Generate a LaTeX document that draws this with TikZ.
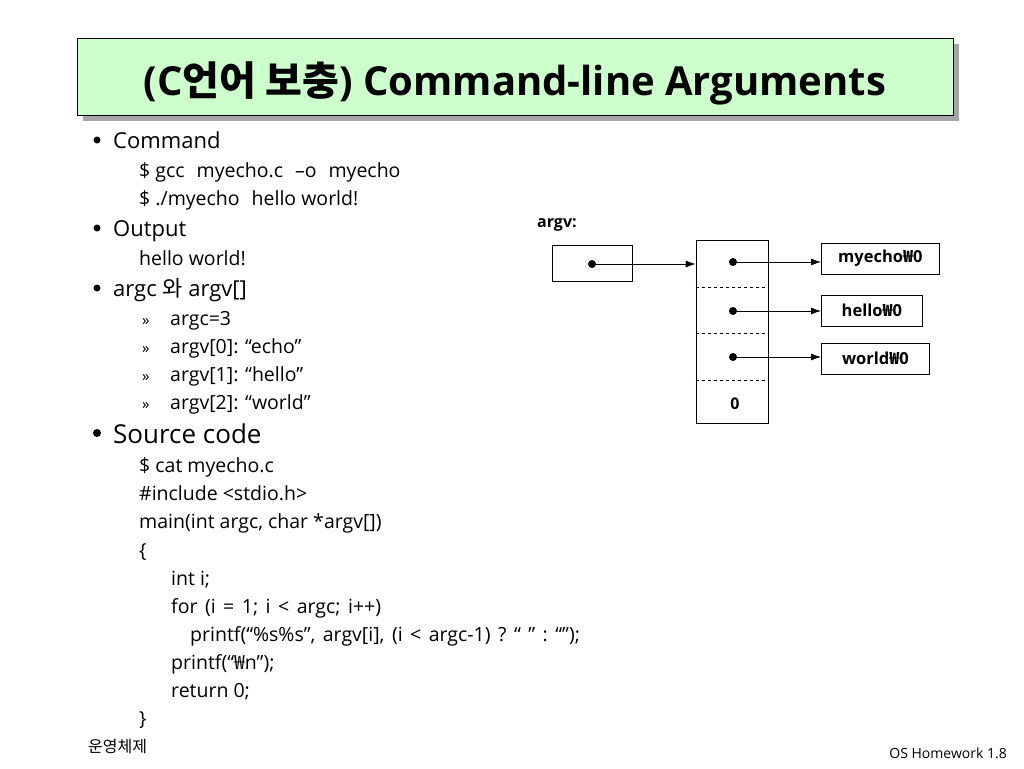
\documentclass[tikz,border=0pt]{standalone}
\usepackage{fontspec}
\setmainfont{Open Sans}
\newfontfamily\kr{Noto Sans CJK KR}
\usepackage{tikz}
\usetikzlibrary{shadows}
\usetikzlibrary{positioning}
\usetikzlibrary{arrows,arrows.meta,shapes}
\usetikzlibrary{calc}

\definecolor{titlegreen}{RGB}{204,255,204}
\definecolor{shade}{RGB}{165,165,165}
\newcommand{\hsp}{\hspace{12pt}}
\newcommand{\gap}{\hspace{7.5pt}}
\newcommand{\won}{{\kr ₩}}

\tikzset{
    titlebar/.style={draw, line width=0.8pt, fill=titlegreen, minimum width=876pt, minimum height=77pt, inner sep=0pt,
        drop shadow={shadow xshift=6pt, shadow yshift=-6pt, fill=shade, opacity=1}},
    titletext/.style={inner sep=0pt, font=\fontsize{40}{44}\bfseries},
    head/.style={anchor=mid west, inner sep=0pt, font=\fontsize{22}{26}\selectfont},
    codeline/.style={anchor=mid west, inner sep=0pt, font=\fontsize{19.5}{22}\selectfont},
    bulletdot/.style={circle, fill, inner sep=0pt, minimum size=7pt},
    cell/.style={draw, line width=0.8pt, inner sep=0pt},
    strbox/.style={draw, line width=0.8pt, inner sep=0pt, minimum height=31pt, font=\fontsize{16.5}{18}\bfseries},
    ptr/.style={circle, fill, inner sep=0pt, minimum size=8pt},
    link/.style={line width=0.8pt, -{Latex[length=10pt,width=7pt]}}
}

\begin{document}
\begin{tikzpicture}[x=1pt, y=-1pt, auto, swap]
   \useasboundingbox (0,0) rectangle (1024,768);

   % title
   \node[titlebar] (title) at (515,76.5) {};
   \node[titletext] (ttl) at ($(title.center)+(0,7)$) {(C{\kr 언어 보충}) Command-line Arguments};

   % bullets
   \def\bx{97};
   \def\tx{113};
   \def\sx{139};
   \foreach \y/\name/\id in {{140/Command/B1}, {228/Output/B2}, {288/{argc {\kr 와} argv[]}/B3}}
   {
        \node[bulletdot] (M\id) at (\bx,\y) {};
        \node[head] (\id) at (\tx,\y+6) {\name};
   }
   \node[bulletdot, minimum size=8pt] (MB4) at (\bx,433) {};
   \node[head, font=\fontsize{26}{30}\selectfont] (B4) at (\tx,441) {Source code};

   \foreach \y/\name/\id in {{170/{\$ gcc\hsp myecho.c\hsp –o\hsp myecho}/L1}, {198/{\$ ./myecho\hsp hello world!}/L2},
        {258/{hello world!}/L3}, {465/{\$ cat myecho.c}/L4}, {493/{\#include <stdio.h>}/L5},
        {521/{main(int argc, char *argv[])}/L6}, {550/{\{}/L7}, {718/{\}}/L8}}
        \node[codeline] (\id) at (\sx,\y+5) {\name};

   \foreach \y/\name/\id in {{318/{argc=3}/A1}, {346/{argv[0]: “echo”}/A2}, {374/{argv[1]: “hello”}/A3}, {402/{argv[2]: “world”}/A4}}
   {
        \node[codeline, font=\fontsize{15}{16}\selectfont] (Q\id) at (142,\y+5) {»};
        \node[codeline] (\id) at (170,\y+5) {\name};
   }

   \foreach \y/\name/\id in {{578/{int i;}/C1}, {606/{for\gap(i\gap=\gap1;\gap i\gap<\gap argc;\gap i++)}/C2},
        {662/{printf(“\won n”);}/C4}, {690/{return 0;}/C5}}
        \node[codeline] (\id) at (171,\y+5) {\name};
   \node[codeline] (C3) at (190,639) {printf(“\%s\%s”,\gap argv[i],\gap(i\gap<\gap argc-1)\gap?\gap“\gap”\gap:\gap“”);};

   % argv diagram
   \node[anchor=mid west, inner sep=0pt, font=\fontsize{16}{18}\bfseries] (lbl) at (537,225) {argv:};
   \node[cell, minimum width=80pt, minimum height=36pt] (argv) at (592,263) {};
   \node[cell, minimum width=72pt, minimum height=183pt] (arr) at (732,331.5) {};
   \foreach \y in {287, 333, 380}
        \draw[dashed, line width=0.8pt] (arr.west |- 0,\y) -- (arr.east |- 0,\y);
   \node[font=\fontsize{16}{18}\bfseries] (nul) at (735,404) {0};

   \node[ptr] (p0) at (592,264) {};
   \draw[link] (p0) -- (p0 -| arr.west);

   \foreach \y/\sy/\w/\name/\id in {{262/258.5/118/{myecho\won0}/1}, {311/310.5/101/{hello\won0}/2}, {357/358.5/108/{world\won0}/3}}
   {
        \node[ptr] (p\id) at (733,\y) {};
        \node[strbox, minimum width=\w pt, anchor=west] (s\id) at (821,\sy) {\name};
        \draw[link] (p\id) -- (p\id -| s\id.west);
   }

   % footer
   \node[anchor=west, inner sep=0pt, font=\fontsize{16}{18}\kr] (f1) at (88,746) {운영체제};
   \node[anchor=east, inner sep=0pt, font=\fontsize{14}{16}\selectfont] (f2) at (1007,753) {OS Homework 1.8};
\end{tikzpicture}
\end{document}
